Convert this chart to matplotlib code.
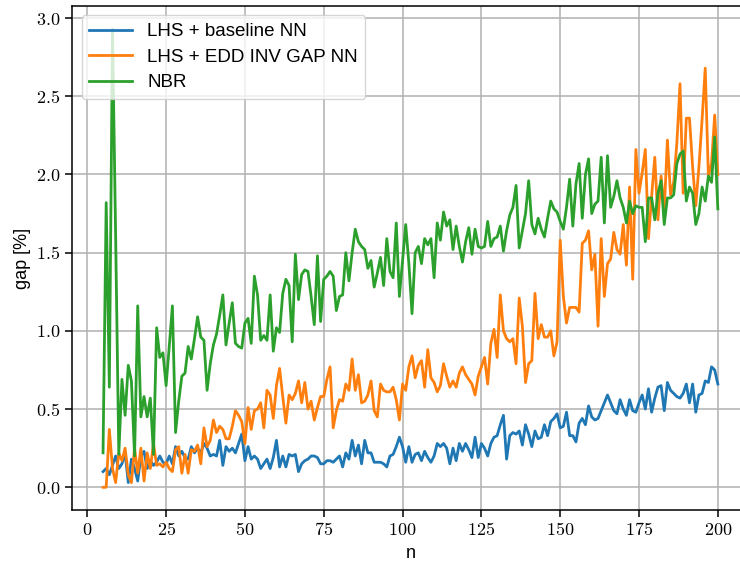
import numpy as np
import matplotlib
matplotlib.use("Agg")
import matplotlib.pyplot as plt
from matplotlib.ticker import FuncFormatter

plt.rcParams['font.family'] = ['Liberation Sans', 'DejaVu Sans']
plt.rcParams['mathtext.fontset'] = 'cm'

n = np.arange(5, 201)

# gap [%] per problem size n (n = 5 .. 200)
baseline_nn = [
    0.10, 0.12, 0.08, 0.14, 0.20, 0.12, 0.15, 0.22, 0.03, 0.18,
    0.12, 0.04, 0.20, 0.23, 0.12, 0.17, 0.14, 0.16, 0.20, 0.16,
    0.15, 0.20, 0.15, 0.26, 0.20, 0.23, 0.19, 0.18, 0.26, 0.22,
    0.25, 0.22, 0.28, 0.25, 0.20, 0.21, 0.20, 0.30, 0.14, 0.26,
    0.23, 0.25, 0.22, 0.28, 0.34, 0.17, 0.26, 0.18, 0.20, 0.18,
    0.12, 0.15, 0.18, 0.12, 0.19, 0.30, 0.13, 0.20, 0.13, 0.21,
    0.20, 0.21, 0.10, 0.15, 0.17, 0.18, 0.20, 0.20, 0.19, 0.15,
    0.15, 0.17, 0.17, 0.16, 0.18, 0.20, 0.13, 0.22, 0.18, 0.30,
    0.20, 0.27, 0.15, 0.30, 0.22, 0.22, 0.16, 0.16, 0.16, 0.15,
    0.13, 0.20, 0.21, 0.26, 0.32, 0.26, 0.16, 0.26, 0.16, 0.21,
    0.22, 0.17, 0.23, 0.19, 0.16, 0.20, 0.28, 0.26, 0.28, 0.25,
    0.15, 0.25, 0.17, 0.28, 0.23, 0.28, 0.24, 0.19, 0.32, 0.19,
    0.28, 0.25, 0.20, 0.28, 0.32, 0.33, 0.40, 0.46, 0.18, 0.33,
    0.35, 0.34, 0.36, 0.27, 0.40, 0.34, 0.26, 0.36, 0.31, 0.32,
    0.40, 0.33, 0.42, 0.44, 0.47, 0.38, 0.39, 0.48, 0.33, 0.33,
    0.29, 0.41, 0.44, 0.40, 0.52, 0.45, 0.43, 0.44, 0.49, 0.54,
    0.59, 0.54, 0.49, 0.47, 0.56, 0.50, 0.46, 0.56, 0.49, 0.48,
    0.54, 0.59, 0.50, 0.63, 0.48, 0.57, 0.64, 0.65, 0.49, 0.67,
    0.62, 0.60, 0.58, 0.57, 0.60, 0.66, 0.54, 0.66, 0.48, 0.59,
    0.60, 0.68, 0.67, 0.77, 0.75, 0.66,
]

edd_inv_gap_nn = [
    0.00, 0.00, 0.37, 0.12, 0.03, 0.22, 0.17, 0.25, 0.08, 0.03,
    0.25, 0.09, 0.25, 0.04, 0.22, 0.12, 0.28, 0.14, 0.15, 0.13,
    0.16, 0.12, 0.10, 0.24, 0.26, 0.09, 0.21, 0.09, 0.24, 0.23,
    0.27, 0.15, 0.38, 0.26, 0.30, 0.43, 0.35, 0.39, 0.37, 0.31,
    0.31, 0.39, 0.49, 0.46, 0.42, 0.28, 0.51, 0.37, 0.49, 0.50,
    0.54, 0.38, 0.62, 0.59, 0.44, 0.65, 0.76, 0.58, 0.41, 0.59,
    0.56, 0.60, 0.68, 0.54, 0.67, 0.50, 0.55, 0.43, 0.51, 0.58,
    0.58, 0.69, 0.77, 0.38, 0.49, 0.56, 0.55, 0.66, 0.62, 0.82,
    0.62, 0.72, 0.54, 0.55, 0.59, 0.68, 0.49, 0.45, 0.66, 0.62,
    0.61, 0.61, 0.64, 0.56, 0.43, 0.66, 0.62, 0.77, 0.84, 0.70,
    0.78, 0.81, 0.64, 0.88, 0.70, 0.67, 0.61, 0.65, 0.79, 0.71,
    0.64, 0.68, 0.64, 0.73, 0.77, 0.72, 0.69, 0.66, 0.59, 0.71,
    0.77, 0.83, 0.66, 0.92, 1.01, 0.83, 1.23, 1.00, 0.95, 0.93,
    0.95, 0.79, 1.21, 1.03, 0.67, 0.79, 0.81, 1.24, 0.95, 1.04,
    0.96, 0.96, 1.00, 0.84, 0.93, 1.58, 1.22, 1.05, 1.15, 1.15,
    1.15, 1.12, 1.56, 1.58, 1.64, 1.39, 1.49, 1.03, 1.59, 1.22,
    1.43, 1.46, 1.63, 1.52, 1.49, 1.68, 1.42, 1.92, 1.33, 2.16,
    1.88, 2.01, 2.16, 1.59, 1.86, 2.11, 1.71, 1.99, 1.77, 2.22,
    1.87, 1.95, 2.20, 2.58, 1.88, 2.36, 2.36, 2.05, 1.80, 2.05,
    2.35, 2.68, 1.99, 2.07, 2.38, 2.00,
]

nbr = [
    0.22, 1.82, 0.64, 2.93, 1.60, 0.21, 0.69, 0.46, 0.78, 0.68,
    0.20, 1.16, 0.45, 0.58, 0.45, 0.57, 0.21, 1.02, 0.83, 0.86,
    0.65, 0.90, 1.16, 0.35, 0.55, 0.71, 0.73, 0.90, 0.82, 0.95,
    1.09, 0.96, 0.94, 0.62, 0.79, 0.91, 0.98, 1.10, 1.23, 0.91,
    1.05, 1.18, 0.92, 0.90, 0.89, 1.05, 1.08, 0.92, 1.35, 1.23,
    0.94, 0.97, 0.94, 1.23, 0.87, 1.02, 0.99, 1.24, 1.33, 1.29,
    0.93, 1.49, 1.20, 1.36, 1.39, 1.38, 1.22, 1.04, 1.48, 1.06,
    1.33, 1.35, 1.38, 1.35, 1.13, 1.22, 1.23, 1.50, 1.32, 1.50,
    1.65, 1.57, 1.54, 1.52, 1.40, 1.45, 1.28, 1.37, 1.47, 1.29,
    1.59, 1.38, 1.34, 1.69, 1.22, 1.45, 1.68, 1.43, 1.11, 1.50,
    1.54, 1.43, 1.59, 1.55, 1.59, 1.34, 1.69, 1.58, 1.76, 1.67,
    1.71, 1.52, 1.67, 1.54, 1.44, 1.57, 1.66, 1.49, 1.65, 1.54,
    1.53, 1.54, 1.70, 1.54, 1.59, 1.60, 1.67, 1.51, 1.64, 1.74,
    1.79, 1.93, 1.53, 1.64, 1.75, 1.96, 1.68, 1.62, 1.72, 1.65,
    1.60, 1.72, 1.83, 1.78, 1.76, 1.70, 1.65, 1.79, 1.97, 1.67,
    1.94, 2.07, 1.72, 2.00, 2.10, 1.75, 1.81, 1.83, 2.11, 1.69,
    2.12, 1.79, 1.86, 1.96, 1.85, 1.79, 1.69, 1.83, 1.75, 1.80,
    1.79, 1.79, 1.57, 1.85, 1.85, 1.71, 1.88, 1.96, 1.68, 1.85,
    1.85, 1.87, 2.07, 2.13, 2.15, 1.83, 1.92, 1.88, 1.68, 1.75,
    1.92, 1.83, 1.99, 1.95, 2.24, 1.78,
]

labels = ["LHS + baseline NN", "LHS + EDD INV GAP NN", "NBR"]

fig = plt.figure(figsize=(7.4, 5.67), dpi=100)
ax = fig.add_axes([0.0977, 0.1002, 0.9139, 0.889])

lw = 2.0
ax.plot(n, baseline_nn, color="tab:blue", lw=lw, label=labels[0])
ax.plot(n, edd_inv_gap_nn, color="tab:orange", lw=lw, label=labels[1])
ax.plot(n, nbr, color="tab:green", lw=lw, label=labels[2])

ax.grid(True, color="#b0b0b0", lw=1.1)
ax.set_axisbelow(True)
ax.set_xticks([0, 25, 50, 75, 100, 125, 150, 175, 200])
ax.xaxis.set_major_formatter(FuncFormatter(lambda v, p: "$%d$" % v))
ax.yaxis.set_major_formatter(FuncFormatter(lambda v, p: "$%.1f$" % v))
ax.tick_params(labelsize=13, length=5, width=1.1)
for s in ax.spines.values():
    s.set_linewidth(1.1)

ax.set_xlabel("n", fontsize=13)
ax.set_ylabel("gap [%]", fontsize=13)

ax.legend(loc="upper left", fontsize=13.5, handlelength=2.3, labelspacing=0.45)

fig.savefig("out.png", dpi=100)
